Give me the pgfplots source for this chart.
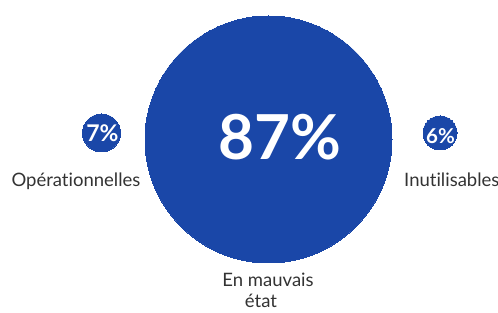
\documentclass[border=0pt]{standalone}
\usepackage{pgfplots}
\pgfplotsset{compat=1.18}
\usepackage{fontspec}
\setmainfont[Ligatures=NoCommon]{Lato}
\definecolor{bblue}{HTML}{1A47A8}
\definecolor{tgray}{HTML}{333333}
\begin{document}
\begin{tikzpicture}
\begin{axis}[
  set layers,
  scale only axis, width=498pt, height=313pt,
  xmin=0, xmax=498, ymin=0, ymax=313, y dir=reverse,
  hide axis, clip=false,
]
\addplot[scatter, only marks, mark=*, draw=bblue, fill=bblue,
  mark options={draw=bblue, fill=bblue, line width=0pt},
  scatter/use mapped color={draw=bblue, fill=bblue},
  visualization depends on={\thisrow{r} \as \rad},
  scatter/@pre marker code/.append style={/tikz/mark size=\rad}]
table[x=x, y=y] {
x y r
268.5 139.5 123.5
101.5 133 19
440 133 17
};
\begin{pgfonlayer}{axis foreground}
\node[anchor=base, text=white, font=\fontsize{62}{62}\selectfont\bfseries] at (axis cs:280,160) {87\%};
\node[anchor=base, text=white, font=\fontsize{23}{23}\selectfont\bfseries] at (axis cs:102.5,142) {7\%};
\node[anchor=base, text=white, font=\fontsize{20.5}{20.5}\selectfont\bfseries] at (axis cs:440.5,144) {6\%};
\end{pgfonlayer}
\node[anchor=base, text=tgray, font=\fontsize{18.5}{21}\selectfont] at (axis cs:76,187) {Opérationnelles};
\node[anchor=base west, text=tgray, font=\fontsize{18.5}{21}\selectfont, inner sep=0pt] at (axis cs:404,187) {Inutilisables};
\node[anchor=base, text=tgray, font=\fontsize{18.5}{21}\selectfont] at (axis cs:268,287) {En mauvais};
\node[anchor=base, text=tgray, font=\fontsize{18.5}{21}\selectfont] at (axis cs:261,308) {état};
\end{axis}
\pgfresetboundingbox
\path (0,0) rectangle (498pt,313pt);
\end{tikzpicture}
\end{document}
